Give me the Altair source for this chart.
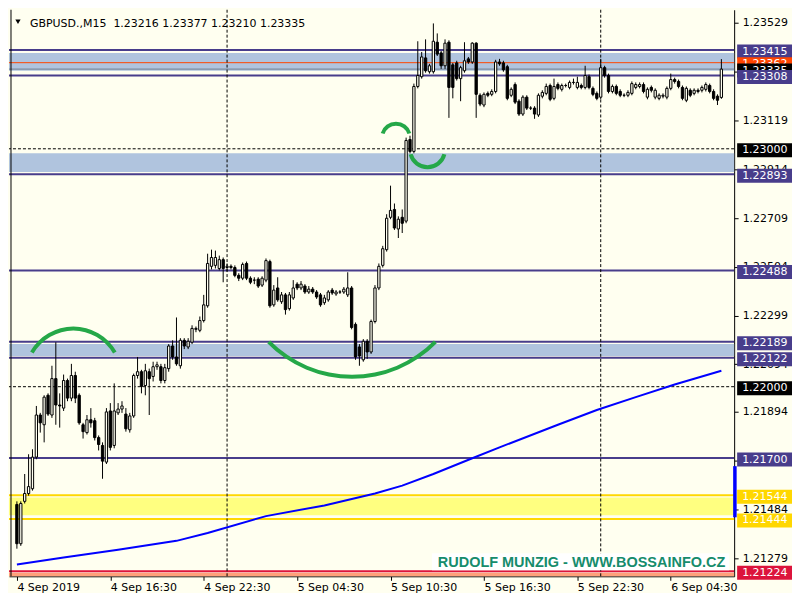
import altair as alt
import pandas as pd

W, H = 727, 568
BG = "#FFFFF0"
GREEN = "#25A848"

TITLE = "GBPUSD.,M15\u00a0 1.23216 1.23377 1.23210 1.23335"
WATERMARK = "RUDOLF MUNZIG - WWW.BOSSAINFO.CZ"

OPEN = [1.21505,1.21340,1.21518,1.21551,1.21571,1.21704,1.21881,1.21840,1.21964,1.21881,
        1.22034,1.21923,1.21910,1.22026,1.21952,1.22047,1.21964,1.21840,1.21807,1.21861,
        1.21857,1.21786,1.21753,1.21683,1.21898,1.21753,1.21890,1.21906,1.21885,1.21819,
        1.21877,1.22047,1.22063,1.22005,1.22063,1.22043,1.22084,1.22084,1.22026,1.22076,
        1.22171,1.22125,1.22088,1.22195,1.22167,1.22187,1.22241,1.22237,1.22278,1.22340,
        1.22506,1.22510,1.22497,1.22534,1.22501,1.22506,1.22501,1.22468,1.22456,1.22518,
        1.22456,1.22448,1.22452,1.22427,1.22448,1.22526,1.22344,1.22415,1.22357,1.22386,
        1.22328,1.22373,1.22431,1.22415,1.22423,1.22398,1.22410,1.22398,1.22386,1.22353,
        1.22365,1.22406,1.22390,1.22398,1.22398,1.22386,1.22415,1.22262,1.22167,1.22113,
        1.22191,1.22146,1.22274,1.22415,1.22510,1.22576,1.22712,1.22745,1.22663,1.22712,
        1.22696,1.23039,1.22989,1.23262,1.23303,1.23382,1.23324,1.23324,1.23448,1.23403,
        1.23349,1.23448,1.23353,1.23361,1.23295,1.23328,1.23378,1.23365,1.23444,1.23225,
        1.23184,1.23233,1.23229,1.23241,1.23365,1.23361,1.23345,1.23225,1.23270,1.23200,
        1.23146,1.23217,1.23171,1.23171,1.23142,1.23221,1.23233,1.23266,1.23212,1.23270,
        1.23250,1.23266,1.23258,1.23279,1.23258,1.23266,1.23258,1.23303,1.23254,1.23233,
        1.23217,1.23341,1.23308,1.23241,1.23262,1.23241,1.23225,1.23225,1.23233,1.23258,
        1.23262,1.23270,1.23217,1.23258,1.23217,1.23212,1.23221,1.23217,1.23254,1.23291,
        1.23283,1.23258,1.23204,1.23246,1.23233,1.23246,1.23246,1.23250,1.23266,1.23241,
        1.23221,1.23216]
HIGH = [1.21518,1.21518,1.21633,1.21716,1.21737,1.21919,1.21890,1.21964,1.21972,1.22088,
        1.22187,1.21972,1.22051,1.22034,1.22096,1.22063,1.21972,1.21848,1.21881,1.21910,
        1.21869,1.21795,1.21766,1.21910,1.21931,1.22014,1.21931,1.21939,1.21910,1.21890,
        1.22055,1.22125,1.22071,1.22096,1.22076,1.22105,1.22105,1.22096,1.22096,1.22179,
        1.22195,1.22291,1.22204,1.22204,1.22204,1.22258,1.22253,1.22295,1.22386,1.22559,
        1.22576,1.22572,1.22551,1.22543,1.22518,1.22514,1.22510,1.22477,1.22522,1.22526,
        1.22464,1.22460,1.22460,1.22464,1.22539,1.22534,1.22427,1.22460,1.22398,1.22394,
        1.22398,1.22448,1.22439,1.22444,1.22431,1.22423,1.22419,1.22406,1.22394,1.22386,
        1.22406,1.22415,1.22406,1.22406,1.22419,1.22481,1.22423,1.22270,1.22179,1.22200,
        1.22200,1.22282,1.22427,1.22518,1.22592,1.22725,1.22845,1.22770,1.22716,1.22745,
        1.23047,1.23055,1.23274,1.23452,1.23407,1.23460,1.23357,1.23527,1.23485,1.23411,
        1.23460,1.23456,1.23361,1.23370,1.23349,1.23448,1.23386,1.23448,1.23448,1.23233,
        1.23237,1.23241,1.23250,1.23374,1.23378,1.23370,1.23353,1.23258,1.23279,1.23208,
        1.23225,1.23225,1.23179,1.23179,1.23233,1.23246,1.23274,1.23274,1.23295,1.23279,
        1.23274,1.23274,1.23287,1.23295,1.23303,1.23274,1.23349,1.23312,1.23262,1.23241,
        1.23378,1.23349,1.23316,1.23270,1.23270,1.23250,1.23233,1.23246,1.23283,1.23279,
        1.23279,1.23279,1.23258,1.23266,1.23254,1.23233,1.23233,1.23262,1.23316,1.23299,
        1.23291,1.23266,1.23262,1.23254,1.23254,1.23254,1.23266,1.23279,1.23274,1.23250,
        1.23229,1.23377]
LOW = [1.21319,1.21331,1.21509,1.21542,1.21563,1.21695,1.21807,1.21766,1.21877,1.21869,
       1.21840,1.21828,1.21898,1.21939,1.21939,1.21931,1.21840,1.21782,1.21799,1.21828,
       1.21774,1.21732,1.21613,1.21675,1.21732,1.21741,1.21881,1.21890,1.21811,1.21807,
       1.21869,1.22034,1.21972,1.21964,1.21881,1.22022,1.22071,1.22014,1.22014,1.22063,
       1.22113,1.22088,1.22076,1.22158,1.22158,1.22179,1.22229,1.22229,1.22270,1.22332,
       1.22493,1.22497,1.22489,1.22439,1.22485,1.22493,1.22460,1.22444,1.22448,1.22448,
       1.22431,1.22431,1.22415,1.22419,1.22439,1.22332,1.22336,1.22357,1.22348,1.22303,
       1.22320,1.22365,1.22406,1.22406,1.22390,1.22390,1.22390,1.22369,1.22336,1.22344,
       1.22357,1.22386,1.22382,1.22390,1.22390,1.22377,1.22241,1.22113,1.22088,1.22105,
       1.22117,1.22138,1.22266,1.22406,1.22501,1.22568,1.22704,1.22659,1.22625,1.22646,
       1.22687,1.22981,1.22981,1.23254,1.23295,1.23320,1.23316,1.23316,1.23390,1.23336,
       1.23336,1.23130,1.23212,1.23287,1.23200,1.23320,1.23357,1.23357,1.23130,1.23179,
       1.23175,1.23217,1.23221,1.23233,1.23349,1.23324,1.23204,1.23217,1.23188,1.23138,
       1.23138,1.23163,1.23163,1.23126,1.23134,1.23212,1.23225,1.23200,1.23204,1.23246,
       1.23241,1.23258,1.23250,1.23270,1.23250,1.23250,1.23250,1.23250,1.23221,1.23204,
       1.23208,1.23299,1.23233,1.23233,1.23225,1.23217,1.23217,1.23217,1.23225,1.23250,
       1.23254,1.23233,1.23208,1.23237,1.23208,1.23204,1.23212,1.23208,1.23246,1.23274,
       1.23254,1.23204,1.23196,1.23217,1.23225,1.23233,1.23237,1.23241,1.23233,1.23204,
       1.23184,1.23210]
CLOSE = [1.21340,1.21509,1.21551,1.21580,1.21704,1.21881,1.21848,1.21956,1.21885,1.22034,
         1.21923,1.21919,1.22026,1.21952,1.22047,1.21952,1.21848,1.21811,1.21861,1.21848,
         1.21786,1.21757,1.21687,1.21894,1.21745,1.21898,1.21906,1.21919,1.21823,1.21877,
         1.22047,1.22063,1.22001,1.22067,1.22034,1.22084,1.22092,1.22026,1.22080,1.22171,
         1.22125,1.22096,1.22195,1.22171,1.22191,1.22245,1.22245,1.22278,1.22344,1.22518,
         1.22543,1.22543,1.22534,1.22497,1.22506,1.22501,1.22468,1.22456,1.22514,1.22456,
         1.22439,1.22448,1.22423,1.22456,1.22530,1.22340,1.22406,1.22365,1.22386,1.22324,
         1.22386,1.22415,1.22415,1.22431,1.22398,1.22410,1.22398,1.22377,1.22344,1.22373,
         1.22398,1.22394,1.22398,1.22398,1.22410,1.22415,1.22249,1.22125,1.22129,1.22191,
         1.22146,1.22274,1.22415,1.22506,1.22580,1.22708,1.22741,1.22667,1.22704,1.22687,
         1.23035,1.22989,1.23262,1.23308,1.23386,1.23328,1.23349,1.23452,1.23398,1.23349,
         1.23444,1.23258,1.23258,1.23295,1.23341,1.23370,1.23365,1.23444,1.23229,1.23188,
         1.23229,1.23225,1.23241,1.23365,1.23357,1.23332,1.23212,1.23250,1.23196,1.23146,
         1.23217,1.23171,1.23171,1.23146,1.23225,1.23237,1.23262,1.23208,1.23262,1.23254,
         1.23266,1.23266,1.23279,1.23279,1.23279,1.23258,1.23308,1.23258,1.23229,1.23212,
         1.23341,1.23308,1.23241,1.23262,1.23233,1.23225,1.23225,1.23237,1.23274,1.23270,
         1.23270,1.23241,1.23250,1.23246,1.23246,1.23225,1.23225,1.23254,1.23291,1.23283,
         1.23262,1.23212,1.23254,1.23225,1.23246,1.23241,1.23258,1.23270,1.23241,1.23212,
         1.23204,1.23335]

MA_IDX = [0, 12, 26, 41, 49, 64, 79, 92, 99, 107, 117, 124, 139, 149, 159, 169, 181]
MA_VAL = [1.21253, 1.21282, 1.21315, 1.21352, 1.21385, 1.21456, 1.21501, 1.21551, 1.21584,
          1.21633, 1.21699, 1.21745, 1.21840, 1.21902, 1.21956, 1.22009, 1.22067]

TIME_IDX = [0, 24, 48, 72, 96, 120, 144, 168]
TIME_LABELS = ["4 Sep 2019", "4 Sep 16:30", "4 Sep 22:30", "5 Sep 04:30",
               "5 Sep 10:30", "5 Sep 16:30", "5 Sep 22:30", "6 Sep 04:30"]
DAY_SEP_IDX = [54, 150]

PRICE_TICKS = [1.23529, 1.23324, 1.23119, 1.22914, 1.22709, 1.22504, 1.22299,
               1.22094, 1.21894, 1.21689, 1.21484, 1.21279]

SLATE_LEVELS = [1.23415, 1.23308, 1.22893, 1.22488, 1.22189, 1.22122, 1.21700]
DASH_LEVELS = [1.23000, 1.22000]
GOLD_LEVELS = [1.21544, 1.21444]
RED_LEVELS = [1.21224]
ASK_LEVEL = [1.23362]
BID_LEVEL = [1.23335]

ZONE_TOP = [1.23403, 1.22981, 1.22179, 1.21534, 1.21218]
ZONE_BOTTOM = [1.23328, 1.22902, 1.22129, 1.21460, 1.21203]
ZONE_COLOR = ["#B0C4DE", "#B0C4DE", "#B0C4DE", "#FFFF80", "#FFA07A"]

LABEL_PRICE = [1.23415, 1.23362, 1.23335, 1.23308, 1.23000, 1.22893, 1.22488,
               1.22189, 1.22122, 1.22000, 1.21700, 1.21544, 1.21444, 1.21224]
LABEL_TEXT = ["1.23415", "1.23362", "1.23335", "1.23308", "1.23000", "1.22893", "1.22488",
              "1.22189", "1.22122", "1.22000", "1.21700", "1.21544", "1.21444", "1.21224"]
LABEL_BG = ["#483D8B", "#FF4500", "#000000", "#483D8B", "#000000", "#483D8B", "#483D8B",
            "#483D8B", "#483D8B", "#000000", "#483D8B", "#FFD700", "#FFD700", "#DC143C"]

INDICATOR_RANGE = [1.21666, 1.21451]

ARC_IDX = [14.5, 86.1, 97.4, 105.5]
ARC_PRICE = [1.22043, 1.22532, 1.23047, 1.22996]

xs = alt.Scale(domain=[-0.75, 183], nice=False, zero=False)
ys = alt.Scale(domain=[1.21203, 1.235845], nice=False, zero=False)

label_expr = "[" + ",".join("'%s'" % t for t in TIME_LABELS) + "][round(datum.value / 24)]"
X_AXIS = alt.Axis(values=TIME_IDX, labelExpr=label_expr, title=None, orient="bottom",
                  grid=False, domainColor="black", tickColor="black", tickSize=4,
                  labelAlign="left", labelPadding=1, labelFont="DejaVu Sans",
                  labelFontSize=11, labelColor="black", labelFlush=False,
                  labelOverlap=False, labelBound=False)
Y_AXIS = alt.Axis(values=PRICE_TICKS, format=".5f", title=None, orient="right", grid=False,
                  domainColor="black", tickColor="black", tickSize=4, labelPadding=4,
                  labelFont="DejaVu Sans", labelFontSize=11, labelColor="black",
                  labelOverlap=False, labelFlush=False, labelBound=False,
                  labelBaseline="middle")


def X(field):
    return alt.X(field, scale=xs, axis=X_AXIS)


def Y(field):
    return alt.Y(field, scale=ys, axis=Y_AXIS)


one = pd.DataFrame({"k": [0]})

zones = alt.Chart(pd.DataFrame({"top": ZONE_TOP, "bottom": ZONE_BOTTOM, "c": ZONE_COLOR})).mark_rect().encode(
    x=alt.value(0), x2=alt.value(W), y=Y("top:Q"), y2="bottom:Q",
    color=alt.Color("c:N", scale=None))


def hlines(prices, color, width, dash=None):
    props = dict(color=color, strokeWidth=width)
    if dash:
        props["strokeDash"] = dash
    return alt.Chart(pd.DataFrame({"p": prices})).mark_rule(**props).encode(y=Y("p:Q"))


vsep = alt.Chart(pd.DataFrame({"i": DAY_SEP_IDX})).mark_rule(
    color="black", strokeWidth=1, strokeDash=[3, 2]).encode(x=X("i:Q"))

left_border = alt.Chart(one).mark_rule(color="black", strokeWidth=1).encode(
    x=alt.value(2), y=alt.value(0), y2=alt.value(H))

ma = alt.Chart(pd.DataFrame({"i": MA_IDX, "ma": MA_VAL})).mark_line(
    color="#0000FF", strokeWidth=2).encode(x=X("i:Q"), y=Y("ma:Q"))

cdf = pd.DataFrame({"i": list(range(len(OPEN))), "open": OPEN, "high": HIGH,
                    "low": LOW, "close": CLOSE})
wicks = alt.Chart(cdf).mark_rule(color="black", strokeWidth=1).encode(
    x=X("i:Q"), y=Y("low:Q"), y2="high:Q")
bodies = alt.Chart(cdf).mark_bar(width=2.3, stroke="black", strokeWidth=1).encode(
    x=X("i:Q"), y=Y("open:Q"), y2="close:Q",
    fill=alt.condition("datum.close >= datum.open", alt.value(BG), alt.value("black")))


def arc(k, r, t1, t2):
    return alt.Chart(pd.DataFrame({"i": [ARC_IDX[k]], "p": [ARC_PRICE[k]]})).mark_arc(
        theta=t1, theta2=t2, innerRadius=r - 2, outerRadius=r + 2, color=GREEN
    ).encode(x=X("i:Q"), y=Y("p:Q"))


arcs = [arc(0, 48, 5.236, 7.330), arc(1, 117, 2.346, 3.937),
        arc(2, 14, 5.013, 7.553), arc(3, 17.5, 1.832, 4.452)]

indicator = alt.Chart(pd.DataFrame({"a": [INDICATOR_RANGE[0]], "b": [INDICATOR_RANGE[1]]})).mark_rect(
    color="#0000FF").encode(x=alt.value(W - 1), x2=alt.value(W + 2.5), y=Y("a:Q"), y2="b:Q")

box_path = "M-1,-0.2545L1,-0.2545L1,0.2545L-1,0.2545Z"
ldf = pd.DataFrame({"p": LABEL_PRICE, "t": LABEL_TEXT, "bg": LABEL_BG})
label_layers = []
for k in range(len(LABEL_PRICE)):
    row = ldf.iloc[[k]]
    label_layers.append(alt.Chart(row).mark_point(
        shape=box_path, size=3025, filled=True, opacity=1, strokeWidth=0, yOffset=1.5
    ).encode(x=alt.value(W + 30.5), y=Y("p:Q"), color=alt.Color("bg:N", scale=None)))
    label_layers.append(alt.Chart(row).mark_text(
        align="left", baseline="middle", font="DejaVu Sans", fontSize=11, color="white",
        yOffset=1.5).encode(x=alt.value(W + 8), y=Y("p:Q"), text="t:N"))

wm_box = alt.Chart(one).mark_rect(color="white").encode(
    x=alt.value(424), x2=alt.value(722), y=alt.value(545), y2=alt.value(562))
wm_text = alt.Chart(pd.DataFrame({"t": [WATERMARK]})).mark_text(
    font="Liberation Sans", fontWeight="bold", fontSize=14.5, color="#168C6C",
    align="center", baseline="alphabetic").encode(x=alt.value(574), y=alt.value(559), text="t:N")

title_tri = alt.Chart(one).mark_point(shape="triangle-down", filled=True, color="black",
                                      size=28, opacity=1).encode(x=alt.value(9), y=alt.value(12))
title_text = alt.Chart(pd.DataFrame({"t": [TITLE]})).mark_text(
    font="DejaVu Sans", fontSize=11, color="black", align="left", baseline="alphabetic"
).encode(x=alt.value(21), y=alt.value(17), text="t:N")

layers = [zones,
          hlines(SLATE_LEVELS, "#483D8B", 2),
          hlines(DASH_LEVELS, "black", 1, [3, 2]),
          hlines(GOLD_LEVELS, "#FFD700", 2),
          hlines(RED_LEVELS, "#DC143C", 2),
          hlines(BID_LEVEL, "#708090", 1),
          hlines(ASK_LEVEL, "#FF4500", 1),
          vsep, left_border, ma, wicks, bodies] + arcs + [
          wm_box, wm_text, indicator] + label_layers + [title_tri, title_text]

chart = alt.layer(*layers).properties(
    width=W, height=H, background=BG, padding=0
).configure_view(stroke=None)

chart.save("out.html", embed_options={"renderer": "svg", "actions": False})
